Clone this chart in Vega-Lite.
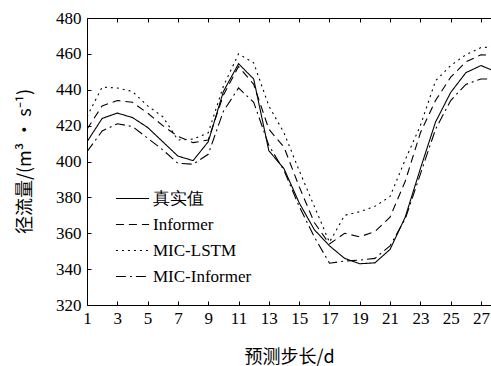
{
  "$schema": "https://vega.github.io/schema/vega-lite/v6.json",
  "width": 404,
  "height": 287,
  "autosize": {"type": "none"},
  "padding": {"left": 87, "top": 18, "right": 0, "bottom": 61},
  "background": "white",
  "config": {
    "view": {"stroke": null},
    "axis": {"grid": false, "domainColor": "black", "tickColor": "black", "labelColor": "black", "titleColor": "black", "labelFont": "Liberation Serif", "labelFontSize": 17, "titleFont": "Noto Sans CJK SC", "titleFontSize": 18, "titleFontWeight": "normal", "domainWidth": 1, "tickWidth": 1, "labelOverlap": false}
  },
  "data": {"values": [
    {"step":1,"model":"真实值","v":411},{"step":2,"model":"真实值","v":424},{"step":3,"model":"真实值","v":427},{"step":4,"model":"真实值","v":424.5},{"step":5,"model":"真实值","v":419},{"step":6,"model":"真实值","v":411},{"step":7,"model":"真实值","v":403},{"step":8,"model":"真实值","v":400.5},{"step":9,"model":"真实值","v":411},{"step":10,"model":"真实值","v":439},{"step":11,"model":"真实值","v":454.5},{"step":12,"model":"真实值","v":446},{"step":13,"model":"真实值","v":406},{"step":14,"model":"真实值","v":396},{"step":15,"model":"真实值","v":377},{"step":16,"model":"真实值","v":362},{"step":17,"model":"真实值","v":353},{"step":18,"model":"真实值","v":346},{"step":19,"model":"真实值","v":343},{"step":20,"model":"真实值","v":343.5},{"step":21,"model":"真实值","v":351},{"step":22,"model":"真实值","v":369},{"step":23,"model":"真实值","v":396},{"step":24,"model":"真实值","v":422},{"step":25,"model":"真实值","v":438.5},{"step":26,"model":"真实值","v":449.5},{"step":27,"model":"真实值","v":453.5},{"step":28,"model":"真实值","v":450},
    {"step":1,"model":"Informer","v":418},{"step":2,"model":"Informer","v":431},{"step":3,"model":"Informer","v":434},{"step":4,"model":"Informer","v":433},{"step":5,"model":"Informer","v":427},{"step":6,"model":"Informer","v":420},{"step":7,"model":"Informer","v":414},{"step":8,"model":"Informer","v":410.5},{"step":9,"model":"Informer","v":412},{"step":10,"model":"Informer","v":437},{"step":11,"model":"Informer","v":453},{"step":12,"model":"Informer","v":443},{"step":13,"model":"Informer","v":418},{"step":14,"model":"Informer","v":408},{"step":15,"model":"Informer","v":386},{"step":16,"model":"Informer","v":366},{"step":17,"model":"Informer","v":354},{"step":18,"model":"Informer","v":360},{"step":19,"model":"Informer","v":358},{"step":20,"model":"Informer","v":361},{"step":21,"model":"Informer","v":369},{"step":22,"model":"Informer","v":389},{"step":23,"model":"Informer","v":416},{"step":24,"model":"Informer","v":434},{"step":25,"model":"Informer","v":447},{"step":26,"model":"Informer","v":455.5},{"step":27,"model":"Informer","v":459.5},{"step":28,"model":"Informer","v":459},
    {"step":1,"model":"MIC-LSTM","v":425},{"step":2,"model":"MIC-LSTM","v":441.5},{"step":3,"model":"MIC-LSTM","v":441},{"step":4,"model":"MIC-LSTM","v":439},{"step":5,"model":"MIC-LSTM","v":431},{"step":6,"model":"MIC-LSTM","v":425},{"step":7,"model":"MIC-LSTM","v":412},{"step":8,"model":"MIC-LSTM","v":412.5},{"step":9,"model":"MIC-LSTM","v":416},{"step":10,"model":"MIC-LSTM","v":442},{"step":11,"model":"MIC-LSTM","v":460},{"step":12,"model":"MIC-LSTM","v":455},{"step":13,"model":"MIC-LSTM","v":431},{"step":14,"model":"MIC-LSTM","v":416},{"step":15,"model":"MIC-LSTM","v":395},{"step":16,"model":"MIC-LSTM","v":375},{"step":17,"model":"MIC-LSTM","v":355},{"step":18,"model":"MIC-LSTM","v":370},{"step":19,"model":"MIC-LSTM","v":372},{"step":20,"model":"MIC-LSTM","v":375},{"step":21,"model":"MIC-LSTM","v":380.5},{"step":22,"model":"MIC-LSTM","v":401},{"step":23,"model":"MIC-LSTM","v":420},{"step":24,"model":"MIC-LSTM","v":445},{"step":25,"model":"MIC-LSTM","v":453.5},{"step":26,"model":"MIC-LSTM","v":459.5},{"step":27,"model":"MIC-LSTM","v":463.5},{"step":28,"model":"MIC-LSTM","v":464},
    {"step":1,"model":"MIC-Informer","v":405.5},{"step":2,"model":"MIC-Informer","v":417},{"step":3,"model":"MIC-Informer","v":421},{"step":4,"model":"MIC-Informer","v":419.5},{"step":5,"model":"MIC-Informer","v":413},{"step":6,"model":"MIC-Informer","v":406.5},{"step":7,"model":"MIC-Informer","v":399},{"step":8,"model":"MIC-Informer","v":398.5},{"step":9,"model":"MIC-Informer","v":404},{"step":10,"model":"MIC-Informer","v":428},{"step":11,"model":"MIC-Informer","v":441},{"step":12,"model":"MIC-Informer","v":433},{"step":13,"model":"MIC-Informer","v":409},{"step":14,"model":"MIC-Informer","v":395},{"step":15,"model":"MIC-Informer","v":375},{"step":16,"model":"MIC-Informer","v":358},{"step":17,"model":"MIC-Informer","v":343.3},{"step":18,"model":"MIC-Informer","v":344.5},{"step":19,"model":"MIC-Informer","v":345},{"step":20,"model":"MIC-Informer","v":346},{"step":21,"model":"MIC-Informer","v":353},{"step":22,"model":"MIC-Informer","v":368},{"step":23,"model":"MIC-Informer","v":393},{"step":24,"model":"MIC-Informer","v":418},{"step":25,"model":"MIC-Informer","v":434},{"step":26,"model":"MIC-Informer","v":443},{"step":27,"model":"MIC-Informer","v":446},{"step":28,"model":"MIC-Informer","v":446}
  ]},
  "layer": [
    {
      "mark": {"type": "line", "clip": true, "color": "black", "strokeWidth": 1.1},
      "encoding": {
        "x": {"field": "step", "type": "quantitative", "scale": {"domain": [1, 27.66], "nice": false, "zero": false},
              "axis": {"values": [1,3,5,7,9,11,13,15,17,19,21,23,25,27], "tickSize": -4, "labelPadding": 9, "title": "预测步长/d", "titleBaseline": "middle", "titleY": 52, "labelFlush": false, "labelOverlap": false}},
        "y": {"field": "v", "type": "quantitative", "scale": {"domain": [320, 480], "nice": false, "zero": false},
              "axis": {"values": [320,340,360,380,400,420,440,460,480], "tickSize": -4, "labelPadding": 10, "labelOverlap": false, "title": "径流量/(m³ • s⁻¹)", "titleBaseline": "middle", "titleX": -62, "titleY": 143}},
        "strokeDash": {"field": "model", "type": "nominal",
          "scale": {"domain": ["真实值", "Informer", "MIC-LSTM", "MIC-Informer"], "range": [[1,0],[8,5],[2,4],[10,4,2,4]]},
          "legend": {"title": null, "orient": "none", "legendX": 28, "legendY": 163, "symbolType": "stroke", "symbolSize": 1100, "symbolStrokeColor": "black", "symbolStrokeWidth": 1.1, "labelFont": "Liberation Serif", "labelFontSize": 17, "labelColor": "black", "rowPadding": -30, "labelOffset": 3}},
        "detail": {"field": "model"}
      }
    },
    {
      "mark": {"type": "line", "opacity": 0, "clip": true},
      "encoding": {
        "x": {"field": "step", "type": "quantitative", "axis": {"orient": "top", "values": [1,3,5,7,9,11,13,15,17,19,21,23,25,27], "tickSize": -4, "labels": false, "title": null}},
        "y": {"field": "v", "type": "quantitative", "axis": {"values": [320,340,360,380,400,420,440,460,480], "tickSize": -4, "labelPadding": 10, "labelOverlap": false, "title": "径流量/(m³ • s⁻¹)", "titleBaseline": "middle", "titleX": -62, "titleY": 143}},
        "detail": {"field": "model"}
      }
    }
  ],
  "resolve": {"axis": {"x": "independent"}}
}
